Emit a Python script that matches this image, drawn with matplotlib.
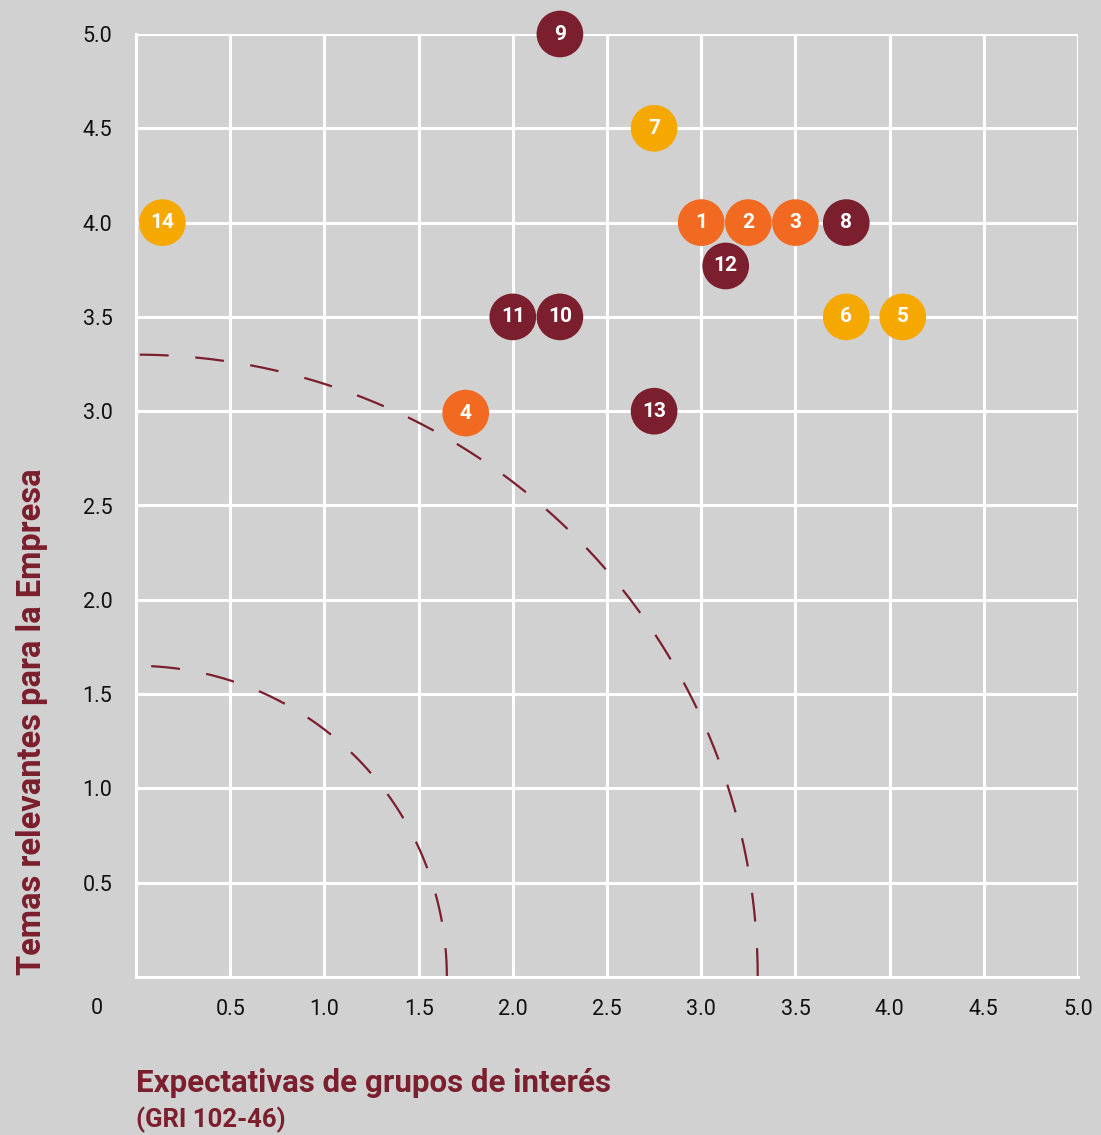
import numpy as np
import matplotlib
matplotlib.use("Agg")
import matplotlib.pyplot as plt

# Data
labels = ["1", "2", "3", "4", "5", "6", "7", "8", "9", "10", "11", "12", "13", "14"]
x_vals = [3.0, 3.25, 3.5, 1.75, 4.07, 3.77, 2.75, 3.77, 2.25, 2.25, 2.0, 3.13, 2.75, 0.14]
y_vals = [4.0, 4.0, 4.0, 2.99, 3.5, 3.5, 4.5, 4.0, 5.0, 3.5, 3.5, 3.77, 3.0, 4.0]
groups = ["o", "o", "o", "o", "y", "y", "y", "r", "r", "r", "r", "r", "r", "y"]
group_colors = {"o": "#F26A21", "y": "#F5A800", "r": "#7B1E2E"}
curve_radii = [1.65, 3.3]
x_ticks = [0.5, 1.0, 1.5, 2.0, 2.5, 3.0, 3.5, 4.0, 4.5, 5.0]
y_ticks = [0.5, 1.0, 1.5, 2.0, 2.5, 3.0, 3.5, 4.0, 4.5, 5.0]

bg = "#d1d1d1"
dark = "#7B1E2E"
plt.rcParams["font.family"] = ["Roboto", "DejaVu Sans"]

fig = plt.figure(figsize=(11.01, 11.35), dpi=100, facecolor=bg)
ax = fig.add_axes([136/1101, (1135-977)/1135, (1078-136)/1101, (977-34)/1135])
ax.set_facecolor(bg)
ax.set_xlim(0, 5)
ax.set_ylim(0, 5)
for s in ["top", "right"]:
    ax.spines[s].set_visible(False)
for s in ["left", "bottom"]:
    ax.spines[s].set_color("white")
    ax.spines[s].set_linewidth(2.2)
ax.set_xticks(x_ticks)
ax.set_yticks(y_ticks)
ax.set_xticklabels([f"{v:.1f}" for v in x_ticks])
ax.set_yticklabels([f"{v:.1f}" for v in y_ticks])
ax.tick_params(axis="both", length=0, labelsize=15.5, colors="#111111")
ax.tick_params(axis="x", pad=16)
ax.tick_params(axis="y", pad=17)
ax.grid(True, color="white", linewidth=2.2)
ax.set_axisbelow(True)

# dashed curves
t = np.linspace(0, np.pi/2, 300)
for r in curve_radii:
    ax.plot(r*np.cos(t), r*np.sin(t), color=dark, lw=1.6,
            linestyle=(0, (13, 12)), zorder=2)

cols = [group_colors[g] for g in groups]
ax.scatter(x_vals, y_vals, s=1130, c=cols, zorder=3, clip_on=False, linewidths=0)
for xv, yv, lb in zip(x_vals, y_vals, labels):
    ax.text(xv, yv, lb, color="white", fontsize=15, fontweight="bold",
            ha="center", va="center", zorder=4, clip_on=False)

fig.text(97/1101, 1 - 1008/1135, "0", fontsize=15.5, color="#111111",
         ha="center", va="center")
fig.text(136/1101, 1 - 1092/1135, "Expectativas de grupos de interés",
         fontsize=22.5, fontweight="bold", color=dark, ha="left", va="baseline")
fig.text(136/1101, 1 - 1127/1135, "(GRI 102-46)",
         fontsize=18.5, fontweight="bold", color=dark, ha="left", va="baseline")
fig.text(32/1101, 1 - 975/1135, "Temas relevantes para la Empresa",
         fontsize=23.5, fontweight="bold", color=dark, rotation=90,
         ha="center", va="bottom")

fig.savefig("out.png", dpi=100, facecolor=bg)
